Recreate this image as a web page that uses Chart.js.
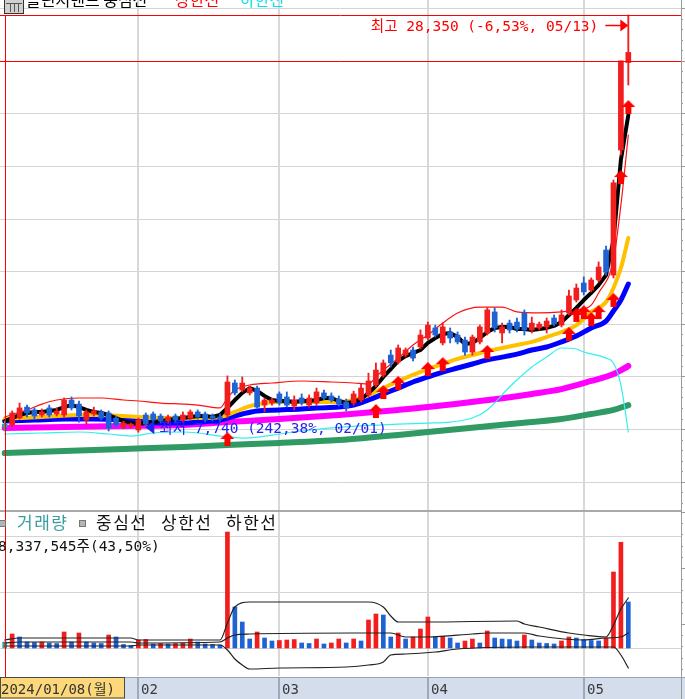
<!DOCTYPE html>
<html><head><meta charset="utf-8">
<script src="https://cdn.jsdelivr.net/npm/chart.js@4.4.1/dist/chart.umd.min.js"></script>
<style>
html,body{margin:0;padding:0;background:#fff;overflow:hidden;}
#wrap{position:relative;width:685px;height:699px;}
#pc{position:absolute;left:0;top:0;}
#vc{position:absolute;left:0;top:510px;}
</style></head><body>
<div id="wrap"><canvas id="pc" width="685" height="510"></canvas><canvas id="vc" width="685" height="189"></canvas></div>
<script>
// ---------------- data ----------------
const year = 2024;
const dates = ['01/08','01/09','01/10','01/11','01/12','01/15','01/16','01/17','01/18','01/19','01/22','01/23','01/24','01/25','01/26','01/29','01/30','01/31',
'02/01','02/02','02/05','02/06','02/07','02/08','02/13','02/14','02/15','02/16','02/19','02/20','02/21','02/22','02/23','02/26','02/27','02/28','02/29',
'03/04','03/05','03/06','03/07','03/08','03/11','03/12','03/13','03/14','03/15','03/18','03/19','03/20','03/21','03/22','03/25','03/26','03/27','03/28','03/29',
'04/01','04/02','04/03','04/04','04/05','04/08','04/09','04/11','04/12','04/15','04/16','04/17','04/18','04/19','04/22','04/23','04/24','04/25','04/26','04/29','04/30',
'05/02','05/03','05/07','05/08','05/09','05/10','05/13'];

const opens = [8140,8100,8440,8980,8840,8590,8940,8640,8590,9330,
 9130,8340,8640,8740,8690,8440,8000,8050,7850,8590,
 8640,8540,8290,8540,8340,8440,8740,8640,8540,8490,
 8590,10170,9820,9680,9920,9080,9180,9630,9480,9030,
 9430,9080,9180,9680,9530,9380,9230,9180,9330,9580,
 10070,10560,11550,11210,11550,11800,11950,12390,12890,12150,
 12690,12540,12290,11700,12200,12640,13680,12640,13130,13180,
 13630,12790,12890,12940,13380,13030,13630,14270,15110,14760,
 15260,16740,15500,21680,26000];
const highs = [8290,8790,9180,9080,8940,8890,9080,8940,9430,9480,
 9280,8840,8980,8840,8790,8540,8290,8190,8440,8690,
 8740,8640,8590,8640,8740,8840,8840,8740,8640,8640,
 10520,10320,10470,10020,10020,9430,9430,9730,9730,9530,
 9630,9580,9920,9820,9680,9530,9380,9770,10120,10660,
 11160,11310,11800,12050,11900,11950,12790,13180,13030,13130,
 12890,12690,12440,12540,13030,13880,13880,13130,13280,13380,
 13780,13430,13180,13380,13530,13780,14760,15060,15410,15360,
 16150,16940,20200,26080,28350];
const lows = [7800,8000,8390,8490,8390,8490,8490,8540,8490,8840,
 8240,8140,8540,8340,7800,8000,7900,7950,7740,8050,
 8240,8190,8190,8190,8240,8340,8390,8240,8290,8290,
 8440,9580,9730,9580,8940,8740,9080,9080,8980,8840,
 9080,8980,9080,9330,9230,9030,8790,9080,9230,9480,
 9970,10460,10960,11110,11450,11260,11850,12290,12440,12050,
 12150,12100,11550,11550,12100,12540,12690,12150,12640,12690,
 12540,12640,12790,12640,12990,12940,13530,14170,14520,14670,
 15160,15500,15360,21430,24890];
const closes = [8000,8690,8940,8690,8540,8740,8590,8790,9330,8940,
 8540,8740,8790,8440,7950,8100,8190,8140,8340,8140,
 8340,8290,8490,8340,8590,8740,8490,8340,8440,8390,
 10220,9680,10170,9920,8980,9330,9330,9180,9080,9330,
 9180,9430,9730,9430,9330,9130,8940,9630,9920,10270,
 10810,11160,11160,11900,11800,11400,12540,13030,12540,12940,
 12390,12200,11700,12440,12940,13780,12890,12940,12790,12840,
 12790,13130,13080,13230,13080,13530,14470,14860,14670,15260,
 15900,15650,20060,26080,26500];
const volumes = [1087500,2537500,1993750,1087500,996875,1087500,906250,815625,2900000,1087500,
 2718750,1087500,906250,815625,2356250,1993750,634375,453125,1450000,1540625,
 725000,815625,725000,815625,906250,1631250,1087500,725000,634375,543750,
 21025000,7431250,4712500,1631250,2900000,1812500,1268750,1359375,1450000,1540625,
 906250,815625,1631250,725000,906250,1631250,906250,1631250,1268750,5075000,
 6162500,5981250,1993750,2718750,1631250,1993750,3443750,5618750,1993750,2084375,
 1812500,906250,1268750,1631250,906250,3081250,1812500,1631250,1540625,1268750,
 2356250,1450000,906250,815625,725000,1268750,1993750,1812500,1540625,1359375,
 1268750,1812500,13775000,19166770,8337545];

const ma5 = [8290,8440,8590,8690,8740,8740,8790,8840,8980,9080,
 8980,8840,8740,8690,8590,8440,8290,8190,8140,8190,
 8240,8290,8340,8390,8440,8490,8540,8540,8490,8590,
 8940,9330,9680,9920,9780,9530,9330,9280,9280,9230,
 9280,9280,9330,9430,9430,9280,9180,9230,9380,9680,
 10020,10470,10860,11260,11500,11650,11800,12150,12390,12590,
 12640,12440,12100,12150,12390,12690,12890,12940,12940,12840,
 12840,12790,12840,12890,12990,13180,13530,13880,14270,14620,
 15010,15500,17230,21190,23410];
const ma20Idx = [0,2,5,7,10,13,16,18,21,24,26,29,31,33,35,37,40,42,45,47,49,51,53,55,57,59,61,63,65,67,69,71,73,75,77,79,81,82,83,84];
const ma20 = [8390,8440,8490,8540,8590,8590,8540,8490,8440,8440,8440,8490,8740,9030,9180,9230,9230,9230,9230,9330,9580,9920,10270,10570,10860,11110,11360,11550,11750,11900,12050,12200,12440,12690,13030,13680,14170,14860,15850,17330];
const ma60Idx = [0,4,8,12,16,18,21,24,26,29,32,34,37,40,42,45,47,49,51,53,55,57,59,61,63,65,67,69,71,73,75,77,79,81,82,83,84];
const ma60 = [8290,8340,8390,8390,8340,8290,8190,8190,8240,8340,8640,8790,8840,8890,8940,8980,9080,9330,9630,9920,10220,10470,10710,10910,11110,11310,11450,11600,11800,11950,12200,12490,12890,13230,13730,14270,15060];
const longIdx = [0,8,16,24,30,37,45,53,57,64,71,75,79,82,84];
const ma120 = [7950,8000,8050,8100,8240,8390,8590,8840,8980,9280,9630,9870,10270,10610,11010];
const ma240 = [6710,6810,6910,7010,7110,7210,7350,7600,7750,8000,8240,8390,8640,8840,9080];
const upperIdx = [0,3,5,7,10,13,16,18,21,24,26,29,30,31,33,36,40,44,47,49,50,51,53,55,57,59,61,64,67,69,72,75,77,79,80,82,83,84];
const upper = [8490,8840,9130,9330,9430,9430,9330,9280,9180,9130,9080,8940,9430,9820,10070,10170,10270,10220,10170,10120,10470,10810,11400,12050,12540,13130,13630,13920,13920,13680,13630,13680,13780,14020,14620,16250,18960,22420];
const lowerIdx = [0,5,10,14,17,20,24,26,29,32,34,37,40,44,48,53,57,60,63,65,68,71,73,75,77,78,81,82,83,84];
const lower = [7650,7700,7750,7650,7550,7700,7750,7700,7550,7450,7500,7650,7800,7950,8050,8140,8190,8240,8440,8840,9970,10960,11450,11900,11850,11700,11400,11160,10070,7750];
const signalIdx = [30,50,51,53,57,59,65,76,77,78,79,80,82,83,84];
const signalVals = [7750,9130,10070,10520,11210,11450,12050,12940,13880,14020,13680,14020,14620,20690,24150];

const volUpIdx = [0,2,17,18,29,30,31,33,49,51,52,53,57,69,70,72,76,78,81,82,83,84];
const volUp = [1450000,1812500,1812500,1450000,1450000,4531250,7431250,8337500,8337500,7431250,5800000,4712500,4712500,4893750,4350000,3806250,2718750,2356250,1993750,4168750,7068750,9062500];
const volMidIdx = [0,2,17,18,29,30,31,33,47,52,54,57,63,65,70,72,78,81,83,84];
const volMid = [906250,1087500,1087500,906250,1087500,1812500,2356250,2537500,2718750,2718750,1993750,1993750,2537500,2718750,2718750,2175000,1450000,1812500,1993750,2718750];
const volLowIdx = [0,2,17,18,29,30,31,32,33,37,46,49,51,52,54,58,61,70,82,83,84];
const volLow = [362500,362500,362500,543750,543750,-362500,-1993750,-3081250,-3806250,-3625000,-3443750,-3081250,-2537500,-1268750,-1087500,-725000,-181250,181250,181250,-1268750,-3625000];

const priceMin = 3946, priceMax = 28695, priceStep = 2600;
const volMin = -5075000, volMax = 24650000, volStep = 10150000;
const selectedIndex = 0;
const emptySlots = 7;

// ---------------- styles ----------------
const RED = '#f21d1d', BLUE = '#1f62d4', SEL = '#22a89c';
const GRID = '#d4d4d4', AXIS_X = 681;
const MONO = "'DejaVu Sans Mono', 'Noto Sans CJK KR', monospace";
const KR = "'Noto Sans CJK KR', sans-serif";

const labels = dates.concat(Array(emptySlots).fill(''));
const monthStarts = dates.map((d,i)=>i).filter(i => i > 0 && dates[i].slice(0,2) !== dates[i-1].slice(0,2));
const pts = (idx, vals) => idx.map((i,k) => ({x: dates[i], y: vals[k]}));
const candleColors = dates.map((d,i) => i === selectedIndex ? SEL : (closes[i] >= opens[i] ? RED : BLUE));
const volColors = volumes.map((v,i) => i === selectedIndex ? SEL : (v > volumes[i-1] ? RED : BLUE));

const maxHigh = Math.max(...highs), maxIdx = highs.indexOf(maxHigh);
const minLow = Math.min(...lows), minIdx = lows.indexOf(minLow);
const lastClose = closes[closes.length-1];
const refClose = closes[closes.length-2];
const fmtNum = n => n.toLocaleString('en-US');
const fmtPct = p => p.toFixed(2).replace('.', ',');

function makeArrow(color){
  const c = document.createElement('canvas'); c.width = 14; c.height = 30;
  const g = c.getContext('2d'); g.fillStyle = color;
  g.beginPath(); g.moveTo(7,15); g.lineTo(14,22); g.lineTo(10,22); g.lineTo(10,29);
  g.lineTo(4,29); g.lineTo(4,22); g.lineTo(0,22); g.closePath(); g.fill();
  return c;
}
const arrowImg = makeArrow('#ff0000');

function hline(ctx, x1, x2, y){ ctx.beginPath(); ctx.moveTo(x1,y); ctx.lineTo(x2,y); ctx.stroke(); }
function vline(ctx, x, y1, y2){ ctx.beginPath(); ctx.moveTo(x,y1); ctx.lineTo(x,y2); ctx.stroke(); }

function rightAxis(ctx, chart, scale, vmin, vmax, step, h){
  ctx.fillStyle = '#9a9a9a'; ctx.fillRect(AXIS_X, 0, 1, h);
  ctx.strokeStyle = '#9a9a9a'; ctx.lineWidth = 1;
  for (let v = vmax, k = 0; v > vmin; v -= step/5, k++){
    const y = Math.round(scale.getPixelForValue(v)) + 0.5;
    hline(ctx, AXIS_X, AXIS_X + (k % 5 === 0 ? 4 : 2), y);
  }
}

const priceDecor = {
  id: 'priceDecor',
  beforeDatasetsDraw(chart){
    const ctx = chart.ctx, xs = chart.scales.x, ys = chart.scales.y;
    ctx.save();
    ctx.strokeStyle = GRID; ctx.lineWidth = 1;
    for (let v = priceMax; v > priceMin; v -= priceStep){
      hline(ctx, 0, AXIS_X, Math.round(ys.getPixelForValue(v)) + 0.5);
    }
    ctx.strokeStyle = '#d8d8d8'; ctx.lineWidth = 2;
    monthStarts.forEach(i => vline(ctx, Math.round(xs.getPixelForValue(i)), 0, chart.height));
    ctx.restore();
  },
  afterDatasetsDraw(chart){
    const ctx = chart.ctx, xs = chart.scales.x, ys = chart.scales.y;
    ctx.save();
    const yMax = Math.round(ys.getPixelForValue(maxHigh)) + 0.5;
    const yRef = Math.round(ys.getPixelForValue(refClose)) + 0.5;
    const xSel = Math.round(xs.getPixelForValue(selectedIndex)) + 0.5;
    ctx.strokeStyle = '#ff0000'; ctx.lineWidth = 1;
    hline(ctx, 0, AXIS_X, yMax);
    hline(ctx, 0, AXIS_X, yRef);
    vline(ctx, xSel, yMax, chart.height);
    // highest annotation
    const xm = xs.getPixelForValue(maxIdx);
    ctx.fillStyle = '#ff0000'; ctx.font = '14.5px ' + MONO;
    ctx.textAlign = 'right'; ctx.textBaseline = 'alphabetic';
    ctx.fillText(`최고 ${fmtNum(maxHigh)} (${fmtPct((lastClose-maxHigh)/maxHigh*100)}%, ${dates[maxIdx]})`, xm - 30, yMax + 15);
    ctx.lineWidth = 1.5;
    hline(ctx, xm - 23, xm - 6, yMax + 10);
    ctx.beginPath(); ctx.moveTo(xm, yMax + 10); ctx.lineTo(xm - 8, yMax + 4); ctx.lineTo(xm - 8, yMax + 16); ctx.closePath(); ctx.fill();
    // lowest annotation
    const xl = xs.getPixelForValue(minIdx), yl = ys.getPixelForValue(minLow);
    ctx.fillStyle = '#2323f0';
    ctx.beginPath(); ctx.moveTo(xl + 7, yl - 5); ctx.lineTo(xl + 16, yl - 12); ctx.lineTo(xl + 16, yl + 2); ctx.closePath(); ctx.fill();
    ctx.textAlign = 'left';
    ctx.fillText(`최저 ${fmtNum(minLow)} (${fmtPct((lastClose-minLow)/minLow*100)}%, ${dates[minIdx]})`, xl + 21, yl + 1);
    ctx.restore();
  },
  afterDraw(chart){
    const ctx = chart.ctx, ys = chart.scales.y;
    ctx.save();
    // title row (cut at top)
    ctx.fillStyle = '#cfcfcf'; ctx.fillRect(4, -1, 20, 15);
    ctx.strokeStyle = '#333'; ctx.lineWidth = 1; ctx.strokeRect(4.5, -0.5, 19, 14);
    ctx.strokeStyle = '#555';
    [10.5, 14.5, 18.5].forEach(x => vline(ctx, x, 4, 12));
    hline(ctx, 6, 22, 3.5);
    ctx.font = '16px ' + KR; ctx.textBaseline = 'alphabetic'; ctx.textAlign = 'left';
    ctx.fillStyle = '#000'; ctx.fillText('볼린저밴드 중심선', 26, 6);
    ctx.fillStyle = '#ff0000'; ctx.fillText('상한선', 175, 6);
    ctx.fillStyle = '#00e5e5'; ctx.fillText('하한선', 240, 6);
    rightAxis(ctx, chart, ys, priceMin, priceMax, priceStep, chart.height);
    ctx.restore();
  }
};

const volDecor = {
  id: 'volDecor',
  beforeDatasetsDraw(chart){
    const ctx = chart.ctx, xs = chart.scales.x, ys = chart.scales.y;
    ctx.save();
    ctx.strokeStyle = GRID; ctx.lineWidth = 1;
    for (let v = 0; v < volMax; v += volStep){
      hline(ctx, 0, AXIS_X, Math.round(ys.getPixelForValue(v)) + 0.5);
    }
    ctx.strokeStyle = '#d8d8d8'; ctx.lineWidth = 2;
    monthStarts.forEach(i => vline(ctx, Math.round(xs.getPixelForValue(i)), 0, chart.chartArea.bottom));
    ctx.restore();
  },
  afterDraw(chart){
    const ctx = chart.ctx, xs = chart.scales.x, ys = chart.scales.y;
    const bandTop = Math.round(chart.chartArea.bottom) + 1;
    ctx.save();
    // divider between panels
    ctx.fillStyle = '#a9a9a9'; ctx.fillRect(0, 0, AXIS_X, 2);
    // selected day line
    ctx.strokeStyle = '#ff0000'; ctx.lineWidth = 1;
    vline(ctx, Math.round(xs.getPixelForValue(selectedIndex)) + 0.5, 0, bandTop);
    // legend
    ctx.textBaseline = 'alphabetic'; ctx.textAlign = 'left';
    const sq = x => { ctx.fillStyle = '#b4b4b4'; ctx.fillRect(x, 10, 7, 7); ctx.strokeStyle = '#777'; ctx.strokeRect(x + 0.5, 10.5, 6, 6); };
    sq(-1); sq(79);
    ctx.font = '17px ' + KR; ctx.letterSpacing = '1.5px';
    ctx.fillStyle = '#3a9c9c'; ctx.fillText('거래량', 17, 19);
    ctx.fillStyle = '#111'; ctx.fillText('중심선', 96, 19); ctx.fillText('상한선', 161, 19); ctx.fillText('하한선', 226, 19);
    ctx.letterSpacing = '0px';
    const lastVol = volumes[volumes.length-1], prevVol = volumes[volumes.length-2];
    ctx.font = '14.5px ' + MONO; ctx.fillStyle = '#111';
    ctx.fillText(`${fmtNum(lastVol)}주(${fmtPct(lastVol/prevVol*100)}%)`, -2, 41);
    // date band
    ctx.fillStyle = '#d4ddeb'; ctx.fillRect(0, bandTop, chart.width, chart.height - bandTop);
    ctx.strokeStyle = '#98a3b3'; ctx.lineWidth = 1; hline(ctx, 0, chart.width, bandTop + 0.5);
    ctx.fillStyle = '#fdd87a'; ctx.fillRect(0, bandTop + 1, 125, chart.height - bandTop - 1);
    ctx.strokeStyle = '#4a4a4a'; ctx.strokeRect(0.5, bandTop + 0.5, 124, chart.height - bandTop - 1.5);
    const wd = '일월화수목금토'[new Date(year, +dates[selectedIndex].slice(0,2) - 1, +dates[selectedIndex].slice(3)).getDay()];
    ctx.font = '14px ' + MONO; ctx.fillStyle = '#333';
    ctx.fillText(`${year}/${dates[selectedIndex]}(${wd})`, 1, bandTop + 17);
    ctx.strokeStyle = '#8d97a8'; ctx.lineWidth = 1.5;
    monthStarts.forEach(i => {
      const x = Math.round(xs.getPixelForValue(i));
      vline(ctx, x, bandTop, chart.height);
      ctx.fillStyle = '#3a3a3a'; ctx.fillText(dates[i].slice(0,2), x + 3, bandTop + 17);
    });
    rightAxis(ctx, chart, ys, volMin, volMax, volStep, bandTop);
    ctx.fillStyle = '#9a9a9a'; ctx.fillRect(AXIS_X, bandTop, 1, chart.height - bandTop);
    ctx.restore();
  }
};

const baseOpts = (padTop, padBottom, ymin, ymax) => ({
  responsive: false, animation: false, devicePixelRatio: 1, events: [],
  layout: { autoPadding: false, padding: { left: 1, right: 1, top: padTop, bottom: padBottom } },
  plugins: { legend: { display: false }, tooltip: { enabled: false } },
  elements: { line: { borderCapStyle: 'round', borderJoinStyle: 'round' } },
  scales: {
    x: { type: 'category', display: false, offset: true, grid: { display: false } },
    y: { type: 'linear', display: false, min: ymin, max: ymax, grid: { display: false } }
  }
});

const smooth = { pointRadius: 0, cubicInterpolationMode: 'monotone', fill: false };

new Chart(document.getElementById('pc'), {
  type: 'bar',
  data: {
    labels,
    datasets: [
      { type: 'line', data: pts(signalIdx, signalVals), showLine: false, pointStyle: arrowImg, pointRadius: 6, order: 0 },
      { type: 'bar', data: dates.map((d,i) => [opens[i], closes[i]]), backgroundColor: candleColors, barThickness: 5, grouped: false, minBarLength: 1, order: 1 },
      { type: 'bar', data: dates.map((d,i) => [lows[i], highs[i]]), backgroundColor: candleColors, barThickness: 1.2, grouped: false, order: 2 },
      { type: 'line', data: ma5.map((v,i) => ({x: dates[i], y: v})), borderColor: '#000', borderWidth: 4, pointRadius: 0, order: 3 },
      { type: 'line', data: pts(upperIdx, upper), borderColor: '#ff1010', borderWidth: 1.2, ...smooth, order: 4 },
      { type: 'line', data: pts(lowerIdx, lower), borderColor: '#30f0f0', borderWidth: 1.2, ...smooth, order: 5 },
      { type: 'line', data: pts(ma20Idx, ma20), borderColor: '#ffc000', borderWidth: 4, ...smooth, order: 6 },
      { type: 'line', data: pts(ma60Idx, ma60), borderColor: '#0000ff', borderWidth: 5, ...smooth, order: 7 },
      { type: 'line', data: pts(longIdx, ma120), borderColor: '#ff00ff', borderWidth: 6, ...smooth, order: 8 },
      { type: 'line', data: pts(longIdx, ma240), borderColor: '#2f9a64', borderWidth: 6, ...smooth, order: 9 }
    ]
  },
  options: baseOpts(8, 1, priceMin, priceMax),
  plugins: [priceDecor]
});

new Chart(document.getElementById('vc'), {
  type: 'bar',
  data: {
    labels,
    datasets: [
      { type: 'line', data: pts(volUpIdx, volUp), borderColor: '#222', borderWidth: 1.2, ...smooth, order: 0 },
      { type: 'line', data: pts(volMidIdx, volMid), borderColor: '#222', borderWidth: 1.2, ...smooth, order: 0 },
      { type: 'line', data: pts(volLowIdx, volLow), borderColor: '#222', borderWidth: 1.2, ...smooth, order: 0 },
      { type: 'bar', data: volumes, backgroundColor: volColors, barThickness: 4, order: 1 }
    ]
  },
  options: baseOpts(2, 23, volMin, volMax),
  plugins: [volDecor]
});
</script>
</body></html>
